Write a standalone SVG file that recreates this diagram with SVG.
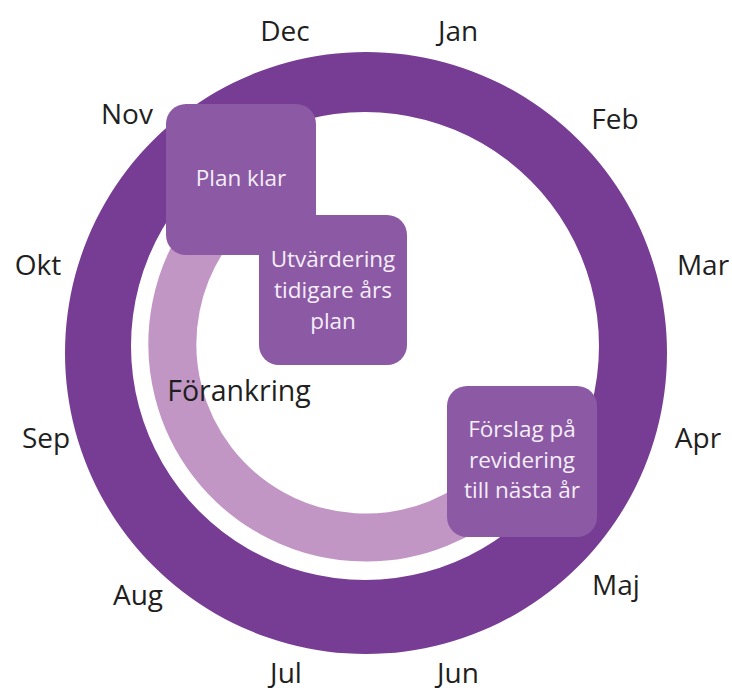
<svg xmlns="http://www.w3.org/2000/svg" width="732" height="691" viewBox="0 0 732 691">
<style>
.month{font-family:"Open Sans","Noto Sans",sans-serif;font-size:28px;fill:#1f1f1f;text-anchor:middle}
.box{fill:#8c59a5}
.bt{font-family:"Open Sans","Noto Sans",sans-serif;font-size:22.5px;fill:#f4eef7;text-anchor:middle}
</style>
<rect width="732" height="691" fill="#ffffff"/>
<g id="rings">
<path id="outer-ring" fill="#773d94" fill-rule="evenodd" d="M366 52a301 301 0 1 0 0.01 0Z M365 112a234 234 0 1 1 -0.01 0Z"/>
<path id="foerankring-arc" d="M269.3 176.4A193.5 193.5 0 1 0 502.8 480.8" fill="none" stroke="#c196c5" stroke-width="48"/>
</g>
<g id="months">
<text class="month" x="285" y="41">Dec</text>
<text class="month" x="458" y="41">Jan</text>
<text class="month" x="615" y="129">Feb</text>
<text class="month" x="703" y="275">Mar</text>
<text class="month" x="698" y="448">Apr</text>
<text class="month" x="616" y="595">Maj</text>
<text class="month" x="458" y="683">Jun</text>
<text class="month" x="286" y="683">Jul</text>
<text class="month" x="138" y="605">Aug</text>
<text class="month" x="46" y="448">Sep</text>
<text class="month" x="38" y="275">Okt</text>
<text class="month" x="127" y="124">Nov</text>
</g>
<g id="foerankring-label">
<text class="month" x="239" y="401" style="font-size:28.5px">Förankring</text>
</g>
<g id="plan-klar">
<rect class="box" x="166" y="104" width="150" height="151" rx="20"/>
<text class="bt" x="241" y="186">Plan klar</text>
</g>
<g id="utvardering">
<rect class="box" x="259" y="215" width="148" height="150" rx="20"/>
<text class="bt" x="333" y="267">Utvärdering</text>
<text class="bt" x="333" y="298">tidigare års</text>
<text class="bt" x="333" y="329">plan</text>
</g>
<g id="forslag">
<rect class="box" x="447" y="386" width="150" height="151" rx="20"/>
<text class="bt" x="522" y="437">Förslag på</text>
<text class="bt" x="522" y="468">revidering</text>
<text class="bt" x="522" y="498">till nästa år</text>
</g>
<g id="connectors"></g>
</svg>
